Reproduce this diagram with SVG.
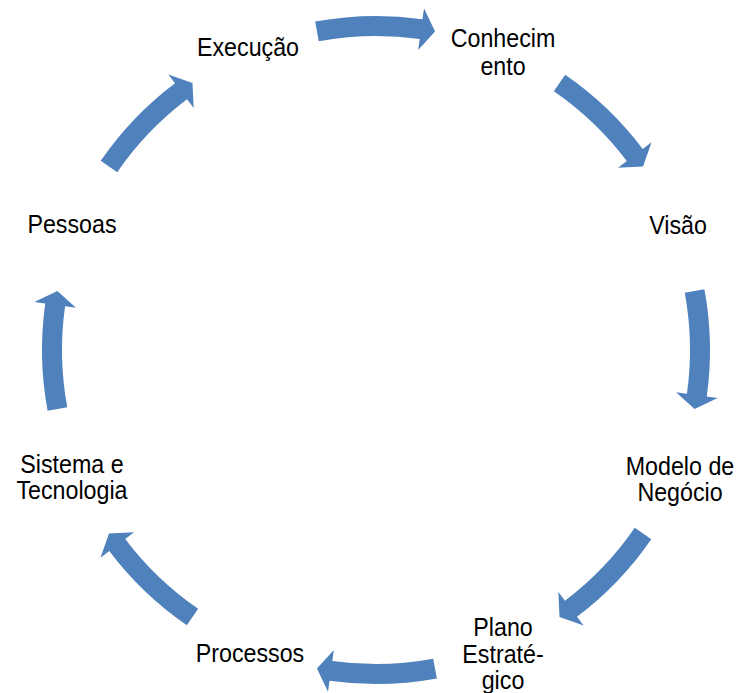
<svg xmlns="http://www.w3.org/2000/svg" width="742" height="693" viewBox="0 0 742 693">
<defs>
<style>
.lbl{font-family:"Liberation Sans",Arial,sans-serif;font-size:25px;fill:#000;text-anchor:middle}
.arr{fill:#4F81BD}
</style>
<path id="arc" d="M315.13,21.59 A334,334 0 0 1 422.48,19.25 L424.01,8.36 L435.05,31.43 L418.17,49.95 L419.70,39.06 A314,314 0 0 0 318.78,41.26 Z"/>
</defs>
<rect width="742" height="693" fill="#fff"/>
<g id="connectors" class="arr">
<use href="#arc" transform="rotate(0 376 350)"/>
<use href="#arc" transform="rotate(45 376 350)"/>
<use href="#arc" transform="rotate(90 376 350)"/>
<use href="#arc" transform="rotate(135 376 350)"/>
<use href="#arc" transform="rotate(180 376 350)"/>
<use href="#arc" transform="rotate(225 376 350)"/>
<use href="#arc" transform="rotate(270 376 350)"/>
<use href="#arc" transform="rotate(315 376 350)"/>
</g>
<g id="n-execucao"><text class="lbl" transform="translate(248,56) scale(0.93,1)">Execução</text></g>
<g id="n-conhecimento"><text class="lbl" transform="translate(503,47) scale(0.93,1)">Conhecim</text><text class="lbl" transform="translate(503,75) scale(0.93,1)">ento</text></g>
<g id="n-visao"><text class="lbl" transform="translate(678,234) scale(0.93,1)">Visão</text></g>
<g id="n-modelo"><text class="lbl" transform="translate(680,475) scale(0.93,1)">Modelo de</text><text class="lbl" transform="translate(680,501) scale(0.93,1)">Negócio</text></g>
<g id="n-plano"><text class="lbl" transform="translate(503,636) scale(0.93,1)">Plano</text><text class="lbl" transform="translate(503,663) scale(0.93,1)">Estraté-</text><text class="lbl" transform="translate(503,689) scale(0.93,1)">gico</text></g>
<g id="n-processos"><text class="lbl" transform="translate(250,662) scale(0.93,1)">Processos</text></g>
<g id="n-sistema"><text class="lbl" transform="translate(72,473) scale(0.93,1)">Sistema e</text><text class="lbl" transform="translate(72,499) scale(0.93,1)">Tecnologia</text></g>
<g id="n-pessoas"><text class="lbl" transform="translate(72,233) scale(0.93,1)">Pessoas</text></g>
</svg>
